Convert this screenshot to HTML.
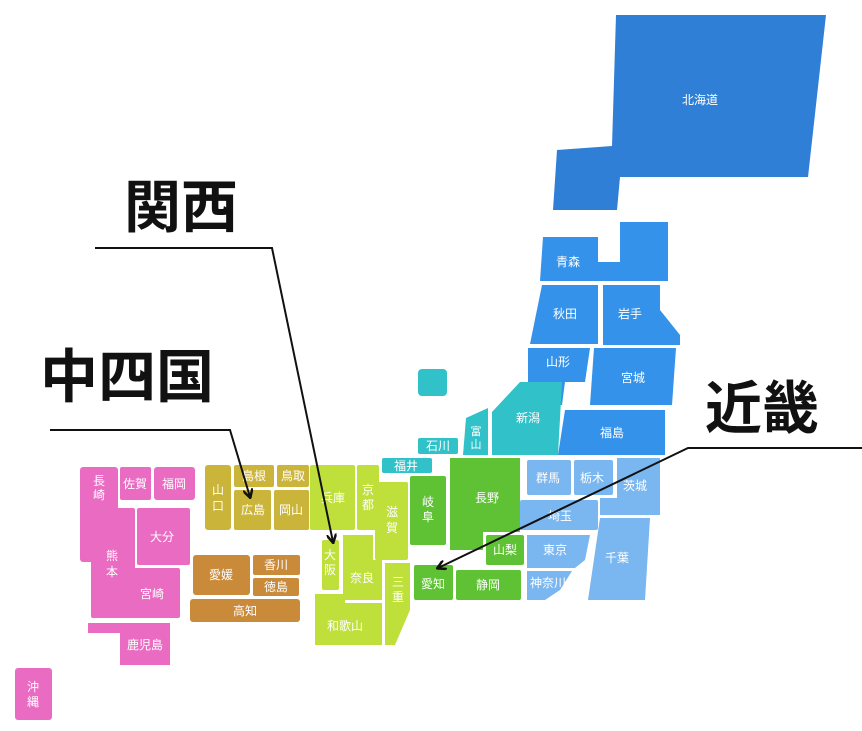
<!DOCTYPE html>
<html><head><meta charset="utf-8"><style>
html,body{margin:0;padding:0;background:#fff}
svg{display:block}
.t{font-family:"Liberation Sans","Noto Sans CJK JP",sans-serif;fill:#fff;font-size:12px;text-anchor:middle;dominant-baseline:central}
.h{font-family:"Liberation Sans","Noto Sans CJK JP",sans-serif;fill:#111;font-weight:bold}
</style></head><body>
<svg width="862" height="731" viewBox="0 0 862 731">
<defs><marker id="a" markerWidth="10" markerHeight="10" refX="8" refY="5" orient="auto" markerUnits="userSpaceOnUse"><path d="M0,0 L9,5 L0,10" fill="none" stroke="#111" stroke-width="2.5"/></marker></defs>
<!-- Hokkaido -->
<polygon points="616,15 826,15 808,177 620,177 617,210 553,210 557,150 612,146" fill="#2f7fd6"/>
<text class="t" x="700" y="100">北海道</text>
<!-- Tohoku -->
<g fill="#3592ea">
<polygon points="543,237 598,237 598,262 620,262 620,222 668,222 668,281 540,281"/>
<polygon points="542,285 598,285 598,344 530,344"/>
<polygon points="603,285 660,285 660,310 680,335 680,345 603,345"/>
<polygon points="528,348 590,348 585,382 565,382 562,405 528,405"/>
<polygon points="594,348 676,348 672,405 590,405"/>
<polygon points="565,410 665,410 665,455 558,455"/>
</g>
<text class="t" x="568" y="262">青森</text><text class="t" x="565" y="314">秋田</text><text class="t" x="630" y="314">岩手</text>
<text class="t" x="558" y="362">山形</text><text class="t" x="633" y="378">宮城</text><text class="t" x="612" y="433">福島</text>
<!-- Hokuriku -->
<g fill="#30c2c8">
<rect x="418" y="369" width="29" height="27" rx="4"/>
<polygon points="520,382 562,382 558,455 492,455 492,412"/>
<polygon points="466,418 488,408 488,455 463,455"/>
<rect x="418" y="438" width="40" height="16" rx="2"/>
<rect x="382" y="458" width="50" height="15" rx="2"/>
</g>
<text class="t" x="528" y="418">新潟</text><text class="t" x="476" y="432" style="font-size:11px">富</text><text class="t" x="476" y="445" style="font-size:11px">山</text>
<text class="t" x="438" y="446">石川</text><text class="t" x="406" y="466">福井</text>
<!-- Chubu -->
<g fill="#5fc234">
<rect x="410" y="476" width="36" height="69" rx="2"/>
<polygon points="450,458 520,458 520,532 483,532 483,550 450,550"/>
<rect x="486" y="535" width="38" height="30" rx="2"/>
<rect x="414" y="565" width="39" height="35" rx="2"/>
<rect x="456" y="570" width="65" height="30" rx="2"/>
</g>
<text class="t" x="428" y="502">岐</text><text class="t" x="428" y="517">阜</text><text class="t" x="487" y="498">長野</text><text class="t" x="505" y="550">山梨</text>
<text class="t" x="433" y="584">愛知</text><text class="t" x="488" y="585">静岡</text>
<!-- Kanto -->
<g fill="#7ab6ef">
<rect x="527" y="460" width="44" height="35" rx="2"/>
<rect x="574" y="460" width="39" height="35" rx="2"/>
<polygon points="617,458 660,458 660,515 600,515 600,498 617,498"/>
<rect x="520" y="500" width="78" height="30" rx="2"/>
<polygon points="527,535 590,535 585,560 575,568 527,568"/>
<polygon points="527,571 572,571 560,590 545,600 527,600"/>
<polygon points="600,518 650,518 645,600 588,600"/>
</g>
<text class="t" x="548" y="478">群馬</text><text class="t" x="592" y="478">栃木</text><text class="t" x="635" y="486">茨城</text>
<text class="t" x="560" y="516">埼玉</text><text class="t" x="555" y="550">東京</text><text class="t" x="548" y="583">神奈川</text><text class="t" x="617" y="558">千葉</text>
<!-- Kansai -->
<g fill="#bfe03a">
<rect x="310" y="465" width="45" height="65" rx="2"/>
<rect x="357" y="465" width="22" height="65" rx="2"/>
<rect x="375" y="482" width="33" height="78" rx="2"/>
<rect x="322" y="540" width="17" height="50" rx="2"/>
<polygon points="343,535 373,535 373,560 382,560 382,600 343,600"/>
<polygon points="385,563 410,563 410,610 395,645 385,645"/>
<polygon points="315,594 345,594 345,603 382,603 382,645 315,645"/>
</g>
<text class="t" x="333" y="498">兵庫</text><text class="t" x="368" y="490">京</text><text class="t" x="368" y="505">都</text>
<text class="t" x="392" y="512">滋</text><text class="t" x="392" y="528">賀</text>
<text class="t" x="330" y="555">大</text><text class="t" x="330" y="570">阪</text><text class="t" x="362" y="578">奈良</text>
<text class="t" x="398" y="582">三</text><text class="t" x="398" y="597">重</text><text class="t" x="345" y="626">和歌山</text>
<!-- Chugoku -->
<g fill="#cbb43a">
<rect x="205" y="465" width="26" height="65" rx="3"/>
<rect x="234" y="465" width="40" height="22" rx="2"/>
<rect x="277" y="465" width="32" height="22" rx="2"/>
<rect x="234" y="490" width="37" height="40" rx="2"/>
<rect x="274" y="490" width="35" height="40" rx="2"/>
</g>
<text class="t" x="218" y="490">山</text><text class="t" x="218" y="506">口</text><text class="t" x="254" y="476">島根</text><text class="t" x="293" y="476">鳥取</text>
<text class="t" x="253" y="510">広島</text><text class="t" x="291" y="510">岡山</text>
<!-- Shikoku -->
<g fill="#c98a3a">
<rect x="193" y="555" width="57" height="40" rx="3"/>
<rect x="253" y="555" width="47" height="20" rx="2"/>
<rect x="253" y="578" width="46" height="18" rx="2"/>
<rect x="190" y="599" width="110" height="23" rx="3"/>
</g>
<text class="t" x="221" y="575">愛媛</text><text class="t" x="276" y="565">香川</text><text class="t" x="276" y="587">徳島</text><text class="t" x="245" y="611">高知</text>
<!-- Kyushu -->
<g fill="#ea6cc2">
<rect x="80" y="467" width="38" height="95" rx="3"/>
<rect x="120" y="467" width="31" height="33" rx="2"/>
<rect x="154" y="467" width="41" height="33" rx="3"/>
<rect x="91" y="508" width="44" height="110" rx="2"/>
<rect x="137" y="508" width="53" height="57" rx="2"/>
<rect x="125" y="568" width="55" height="50" rx="2"/>
<polygon points="88,623 170,623 170,665 120,665 120,633 88,633"/>
<rect x="15" y="668" width="37" height="52" rx="3"/>
</g>
<text class="t" x="99" y="481">長</text><text class="t" x="99" y="495">崎</text><text class="t" x="135" y="484">佐賀</text><text class="t" x="174" y="484">福岡</text>
<text class="t" x="112" y="556">熊</text><text class="t" x="112" y="572">本</text><text class="t" x="162" y="537">大分</text><text class="t" x="152" y="594">宮崎</text><text class="t" x="145" y="645">鹿児島</text>
<text class="t" x="33" y="687">沖</text><text class="t" x="33" y="702">縄</text>
<!-- labels -->
<text class="h" x="124" y="227" style="font-size:57px">関西</text>
<text class="h" x="40" y="397" style="font-size:58px">中四国</text>
<text class="h" x="705" y="428" style="font-size:57px">近畿</text>
<polyline points="95,248 272,248 333,542" fill="none" stroke="#111" stroke-width="2" marker-end="url(#a)"/>
<polyline points="50,430 230,430 250,497" fill="none" stroke="#111" stroke-width="2" marker-end="url(#a)"/>
<polyline points="862,448 688,448 438,568" fill="none" stroke="#111" stroke-width="2" marker-end="url(#a)"/>
</svg>
</body></html>
